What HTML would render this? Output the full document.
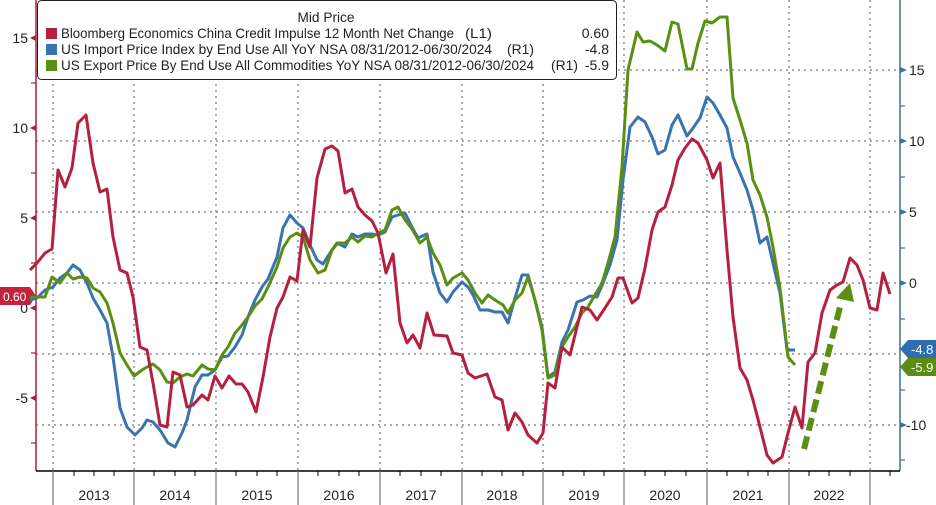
<!DOCTYPE html>
<html><head><meta charset="utf-8"><style>
body{margin:0;background:#fff;}
svg{display:block;font-family:"Liberation Sans",sans-serif;}
</style></head><body>
<svg width="936" height="505" viewBox="0 0 936 505" xmlns="http://www.w3.org/2000/svg">
<rect width="936" height="505" fill="#fff"/>
<g stroke="#555" stroke-width="1" stroke-dasharray="2,4">
<line x1="36" y1="70" x2="900" y2="70"/><line x1="36" y1="141" x2="900" y2="141"/>
<line x1="36" y1="212" x2="900" y2="212"/><line x1="36" y1="283" x2="900" y2="283"/>
<line x1="36" y1="354" x2="900" y2="354"/><line x1="36" y1="425" x2="900" y2="425"/>
<line x1="53" y1="0" x2="53" y2="471"/><line x1="134" y1="0" x2="134" y2="471"/>
<line x1="216" y1="0" x2="216" y2="471"/><line x1="298" y1="0" x2="298" y2="471"/>
<line x1="380" y1="0" x2="380" y2="471"/><line x1="462" y1="0" x2="462" y2="471"/>
<line x1="543" y1="0" x2="543" y2="471"/><line x1="624" y1="0" x2="624" y2="471"/>
<line x1="707" y1="0" x2="707" y2="471"/><line x1="789" y1="0" x2="789" y2="471"/>
<line x1="870" y1="0" x2="870" y2="471"/>
</g>
<line x1="36" y1="0" x2="36" y2="471" stroke="#a8203a" stroke-width="1.5"/>
<line x1="900" y1="0" x2="900" y2="471" stroke="#3a6fa0" stroke-width="1.5"/>
<line x1="36" y1="471" x2="900" y2="471" stroke="#000" stroke-width="1.5"/>
<g stroke="#777" stroke-width="1.2">
<line x1="53" y1="471" x2="53" y2="505"/><line x1="134" y1="471" x2="134" y2="505"/>
<line x1="216" y1="471" x2="216" y2="505"/><line x1="298" y1="471" x2="298" y2="505"/>
<line x1="380" y1="471" x2="380" y2="505"/><line x1="462" y1="471" x2="462" y2="505"/>
<line x1="543" y1="471" x2="543" y2="505"/><line x1="624" y1="471" x2="624" y2="505"/>
<line x1="707" y1="471" x2="707" y2="505"/><line x1="789" y1="471" x2="789" y2="505"/>
<line x1="870" y1="471" x2="870" y2="505"/>
</g>
<g stroke="#000" stroke-width="1">
<line x1="74" y1="471" x2="74" y2="476"/><line x1="94" y1="471" x2="94" y2="476"/><line x1="114" y1="471" x2="114" y2="476"/>
<line x1="154" y1="471" x2="154" y2="476"/><line x1="175" y1="471" x2="175" y2="476"/><line x1="195" y1="471" x2="195" y2="476"/>
<line x1="236" y1="471" x2="236" y2="476"/><line x1="257" y1="471" x2="257" y2="476"/><line x1="277" y1="471" x2="277" y2="476"/>
<line x1="318" y1="471" x2="318" y2="476"/><line x1="339" y1="471" x2="339" y2="476"/><line x1="359" y1="471" x2="359" y2="476"/>
<line x1="400" y1="471" x2="400" y2="476"/><line x1="421" y1="471" x2="421" y2="476"/><line x1="441" y1="471" x2="441" y2="476"/>
<line x1="482" y1="471" x2="482" y2="476"/><line x1="502" y1="471" x2="502" y2="476"/><line x1="523" y1="471" x2="523" y2="476"/>
<line x1="563" y1="471" x2="563" y2="476"/><line x1="584" y1="471" x2="584" y2="476"/><line x1="604" y1="471" x2="604" y2="476"/>
<line x1="645" y1="471" x2="645" y2="476"/><line x1="665" y1="471" x2="665" y2="476"/><line x1="686" y1="471" x2="686" y2="476"/>
<line x1="727" y1="471" x2="727" y2="476"/><line x1="748" y1="471" x2="748" y2="476"/><line x1="768" y1="471" x2="768" y2="476"/>
<line x1="809" y1="471" x2="809" y2="476"/><line x1="829" y1="471" x2="829" y2="476"/><line x1="850" y1="471" x2="850" y2="476"/>
<line x1="890" y1="471" x2="890" y2="476"/>
</g>
<g font-size="14" fill="#222" text-anchor="middle">
<text x="94" y="500">2013</text><text x="175" y="500">2014</text><text x="257" y="500">2015</text>
<text x="339" y="500">2016</text><text x="421" y="500">2017</text><text x="502" y="500">2018</text>
<text x="584" y="500">2019</text><text x="665" y="500">2020</text><text x="748" y="500">2021</text>
<text x="829" y="500">2022</text>
</g>
<g fill="#a8203a">
<polygon points="30,38 36,35 36,41"/><polygon points="30,128 36,125 36,131"/><polygon points="30,218 36,215 36,221"/>
<polygon points="30,308 36,305 36,311"/><polygon points="30,398 36,395 36,401"/>
</g>
<g stroke="#a8203a" stroke-width="1.2"><line x1="31" y1="83" x2="36" y2="83"/><line x1="31" y1="173" x2="36" y2="173"/><line x1="31" y1="263" x2="36" y2="263"/><line x1="31" y1="353" x2="36" y2="353"/><line x1="31" y1="443" x2="36" y2="443"/></g>
<g font-size="14" fill="#222" text-anchor="end">
<text x="28" y="43">15</text><text x="28" y="133">10</text><text x="28" y="223">5</text>
<text x="28" y="313">0</text><text x="28" y="403">-5</text>
</g>
<path d="M0,287 H30 L36,296 L30,305 H0 Z" fill="#c0233e"/>
<text x="3" y="301" font-size="12" fill="#fff">0.60</text>
<g fill="#3a6fa0">
<polygon points="900,67 907,70 900,73"/><polygon points="900,138 907,141 900,144"/><polygon points="900,209 907,212 900,215"/>
<polygon points="900,280 907,283 900,286"/><polygon points="900,422 907,425 900,428"/>
</g>
<g stroke="#3a6fa0" stroke-width="1.2"><line x1="900" y1="106" x2="905" y2="106"/><line x1="900" y1="177" x2="905" y2="177"/><line x1="900" y1="248" x2="905" y2="248"/><line x1="900" y1="319" x2="905" y2="319"/><line x1="900" y1="390" x2="905" y2="390"/><line x1="900" y1="460" x2="905" y2="460"/></g>
<g font-size="14" fill="#222">
<text x="909" y="75">15</text><text x="909" y="146">10</text><text x="909" y="217">5</text>
<text x="909" y="288">0</text><text x="906" y="430">-10</text>
</g>
<path d="M936,340 H908 L900,349 L908,358 H936 Z" fill="#2f6db0"/>
<text x="911" y="354" font-size="13" fill="#fff">-4.8</text>
<path d="M936,358 H908 L900,367 L908,376 H936 Z" fill="#5d8c12"/>
<text x="911" y="372" font-size="13" fill="#fff">-5.9</text>
<g fill="none" stroke-width="3" stroke-linejoin="round">
<polyline stroke="#3a74b0" points="30,300 37,298 45,290 53,287 60,278 67,273 73,265 80,270 87,283 93,298 100,310 107,323 113,357 120,408 127,427 135,435 142,428 147,420 153,422 160,430 168,443 175,447 182,433 187,420 195,387 202,375 208,375 215,370 222,357 228,356 235,347 242,335 248,317 255,300 262,287 268,279 277,257 283,228 290,215 297,223 303,228 310,245 317,260 323,264 330,253 337,243 345,247 352,234 358,237 365,234 372,234 378,235 385,232 392,217 398,215 405,213 412,227 418,238 427,234 433,272 440,293 447,302 453,292 462,282 468,287 473,295 480,310 488,310 495,312 502,312 508,323 515,298 522,275 528,275 535,300 542,327 548,377 555,372 562,342 568,330 577,302 583,300 590,296 597,297 603,283 610,265 617,240 623,180 630,127 638,117 645,122 652,137 658,154 665,150 672,125 678,115 687,136 693,128 700,118 707,97 713,103 720,115 727,128 733,157 740,173 747,190 753,210 760,243 767,237 773,263 780,293 787,350"/>
<line x1="788" y1="350" x2="795" y2="350" stroke="#3a74b0"/>
<polyline stroke="#5a8f12" points="30,297 37,297 45,297 52,277 60,283 67,273 73,279 80,277 87,278 93,288 100,292 107,303 113,323 120,353 127,365 134,376 142,370 147,367 153,364 160,370 167,382 173,383 180,377 187,374 193,376 202,365 208,369 215,370 222,355 228,347 235,333 242,325 248,317 255,306 262,299 268,287 277,267 283,248 290,237 297,233 303,237 310,260 318,273 325,270 332,250 338,243 345,243 352,237 358,242 365,236 372,237 378,233 385,230 392,210 398,207 405,220 412,229 420,243 427,237 433,253 440,265 447,285 453,278 462,273 468,280 475,293 482,303 488,295 495,300 503,305 508,313 515,300 522,293 528,277 535,300 542,330 548,378 555,375 562,347 568,337 575,327 582,313 588,307 595,295 602,283 608,263 615,237 622,167 628,70 637,32 643,42 650,41 657,45 665,51 672,22 678,24 687,69 692,69 698,43 705,21 712,23 720,17 727,17 733,98 740,120 747,143 753,180 760,195 767,217 773,247 780,288 788,357 795,365"/>
<polyline stroke="#b5203f" points="30,270 37,263 45,253 52,249 58,170 65,187 72,168 78,123 86,115 93,163 100,192 107,189 113,237 120,270 127,273 133,297 140,347 147,350 153,383 160,425 167,427 173,372 180,375 187,407 193,405 202,395 208,400 215,376 222,388 229,376 236,384 242,384 248,392 256,412 263,377 270,337 277,308 283,297 290,277 297,281 303,230 310,247 317,178 325,149 332,146 338,151 345,193 352,189 358,207 365,215 372,221 378,233 386,273 393,254 400,323 407,343 413,335 420,348 427,313 434,335 447,336 453,353 462,355 468,373 475,378 487,374 495,397 502,400 508,430 515,413 522,422 528,435 537,443 543,433 548,383 555,388 562,347 570,355 582,307 590,310 597,320 605,308 612,297 618,278 623,278 632,303 638,298 645,268 652,230 658,212 665,207 672,185 678,160 685,148 692,139 698,143 707,160 713,178 720,163 727,250 733,317 740,368 747,380 753,400 760,427 767,455 773,463 782,457 788,433 795,407 802,428 808,362 815,353 822,313 830,290 837,285 843,282 850,258 857,265 863,280 870,308 877,310 883,273 890,294"/>
</g>
<line x1="804" y1="449" x2="841" y2="303" stroke="#5a8f12" stroke-width="6" stroke-dasharray="13,6"/>
<polygon points="850,283 854,302 836,298" fill="#5a8f12"/>
<rect x="37.5" y="0.5" width="579" height="79" rx="4" fill="#fff" stroke="#222" stroke-width="1"/>
<text x="326" y="22" font-size="14" fill="#222" text-anchor="middle" textLength="57" lengthAdjust="spacingAndGlyphs">Mid Price</text>
<rect x="46" y="28" width="11" height="11" fill="#b5203f"/>
<rect x="46" y="44" width="11" height="11" fill="#3a74b0"/>
<rect x="46" y="60" width="11" height="11" fill="#5a8f12"/>
<g font-size="14" fill="#222">
<text x="61" y="38" textLength="393" lengthAdjust="spacingAndGlyphs">Bloomberg Economics China Credit Impulse 12 Month Net Change</text>
<text x="465" y="38" textLength="27" lengthAdjust="spacingAndGlyphs">(L1)</text>
<text x="61" y="54" textLength="431" lengthAdjust="spacingAndGlyphs">US Import Price Index by End Use All YoY NSA 08/31/2012-06/30/2024</text>
<text x="507" y="54" textLength="27" lengthAdjust="spacingAndGlyphs">(R1)</text>
<text x="61" y="70" textLength="473" lengthAdjust="spacingAndGlyphs">US Export Price By End Use All Commodities YoY NSA 08/31/2012-06/30/2024</text>
<text x="551" y="70" textLength="27" lengthAdjust="spacingAndGlyphs">(R1)</text>
<text x="609" y="70" text-anchor="end">-5.9</text>
<text x="609" y="38" text-anchor="end">0.60</text>
<text x="609" y="54" text-anchor="end">-4.8</text>
</g>
</svg>
</body></html>
